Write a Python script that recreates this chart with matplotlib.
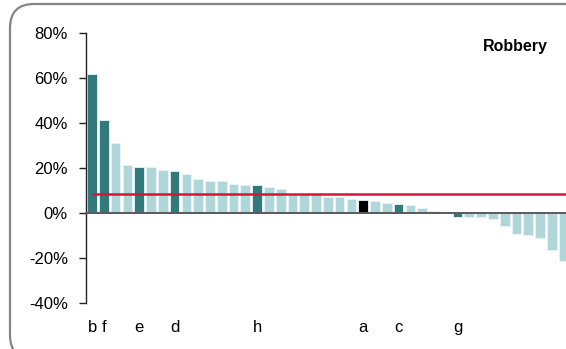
import matplotlib
matplotlib.use("Agg")
import matplotlib.pyplot as plt
from matplotlib.patches import FancyBboxPatch
from matplotlib.transforms import IdentityTransform

plt.rcParams['font.family'] = ['Liberation Sans', 'DejaVu Sans']

values = [62.0, 41.3, 31.0, 21.5, 20.6, 20.6, 19.0, 18.7, 17.3, 15.1,
          14.2, 14.2, 12.9, 12.6, 12.4, 11.6, 10.7, 8.5, 8.3, 8.3,
          7.1, 7.0, 6.1, 5.8, 5.2, 4.4, 4.1, 3.6, 2.2, 0.7,
          0.2, -1.8, -1.8, -1.8, -2.5, -5.8, -9.5, -9.8, -11.0, -16.6,
          -21.3]
labels = {0: 'b', 1: 'f', 4: 'e', 7: 'd', 14: 'h', 23: 'a', 26: 'c', 31: 'g'}
black_labels = ['a']
average = 8.6
yticks = [-40, -20, 0, 20, 40, 60, 80]
panel_title = 'Robbery'

DARK = '#31797A'
LIGHT = '#B0D6D9'
BLACK = '#000000'
RED = '#D4163C'

W, H = 566, 349
fig = plt.figure(figsize=(W / 100, H / 100), dpi=100)

# rounded frame
frame = FancyBboxPatch((10, -10), 640, 355,
                       boxstyle="round,pad=0,rounding_size=24",
                       transform=IdentityTransform(), fill=False,
                       edgecolor='#858585', linewidth=1.6)
fig.patches.append(frame)

ax_left = 86 / W
ax_bottom = 1 - 303 / H
ax_top = 1 - 33 / H
ax = fig.add_axes([ax_left, ax_bottom, 1 - ax_left, ax_top - ax_bottom])
ax.set_facecolor('none')

xs = list(range(len(values)))
colors = []
for i in xs:
    if i in labels:
        colors.append(BLACK if labels[i] in black_labels else DARK)
    else:
        colors.append(LIGHT)

ax.bar(xs, values, width=0.82, color=colors, edgecolor='#EAF5F5',
       linewidth=0.6, zorder=2)
ax.axhline(0, color='#5A5A5A', linewidth=1.4, zorder=3)
ax.plot([0, len(values) + 2], [average, average], color=RED, linewidth=1.8,
        zorder=4, solid_capstyle='butt')

ax.set_ylim(-40, 80)
ax.set_xlim(-0.513, 40.2)
ax.set_yticks(yticks)
ax.set_yticklabels([f'{v}%' for v in yticks], fontsize=12)
ax.set_xticks(list(labels.keys()))
ax.set_xticklabels(list(labels.values()), fontsize=12)
ax.tick_params(axis='x', length=0, pad=12)
ax.tick_params(axis='y', direction='out', length=5, width=1, pad=8, color='#222222')

for s in ['top', 'right', 'bottom']:
    ax.spines[s].set_visible(False)
ax.spines['left'].set_color('#222222')
ax.spines['left'].set_linewidth(1.0)

ax.text(548 / W, 1 - 46 / H, panel_title, transform=fig.transFigure,
        ha='right', va='center', fontsize=11.5, fontweight='bold')

fig.savefig('out.png', dpi=100)
